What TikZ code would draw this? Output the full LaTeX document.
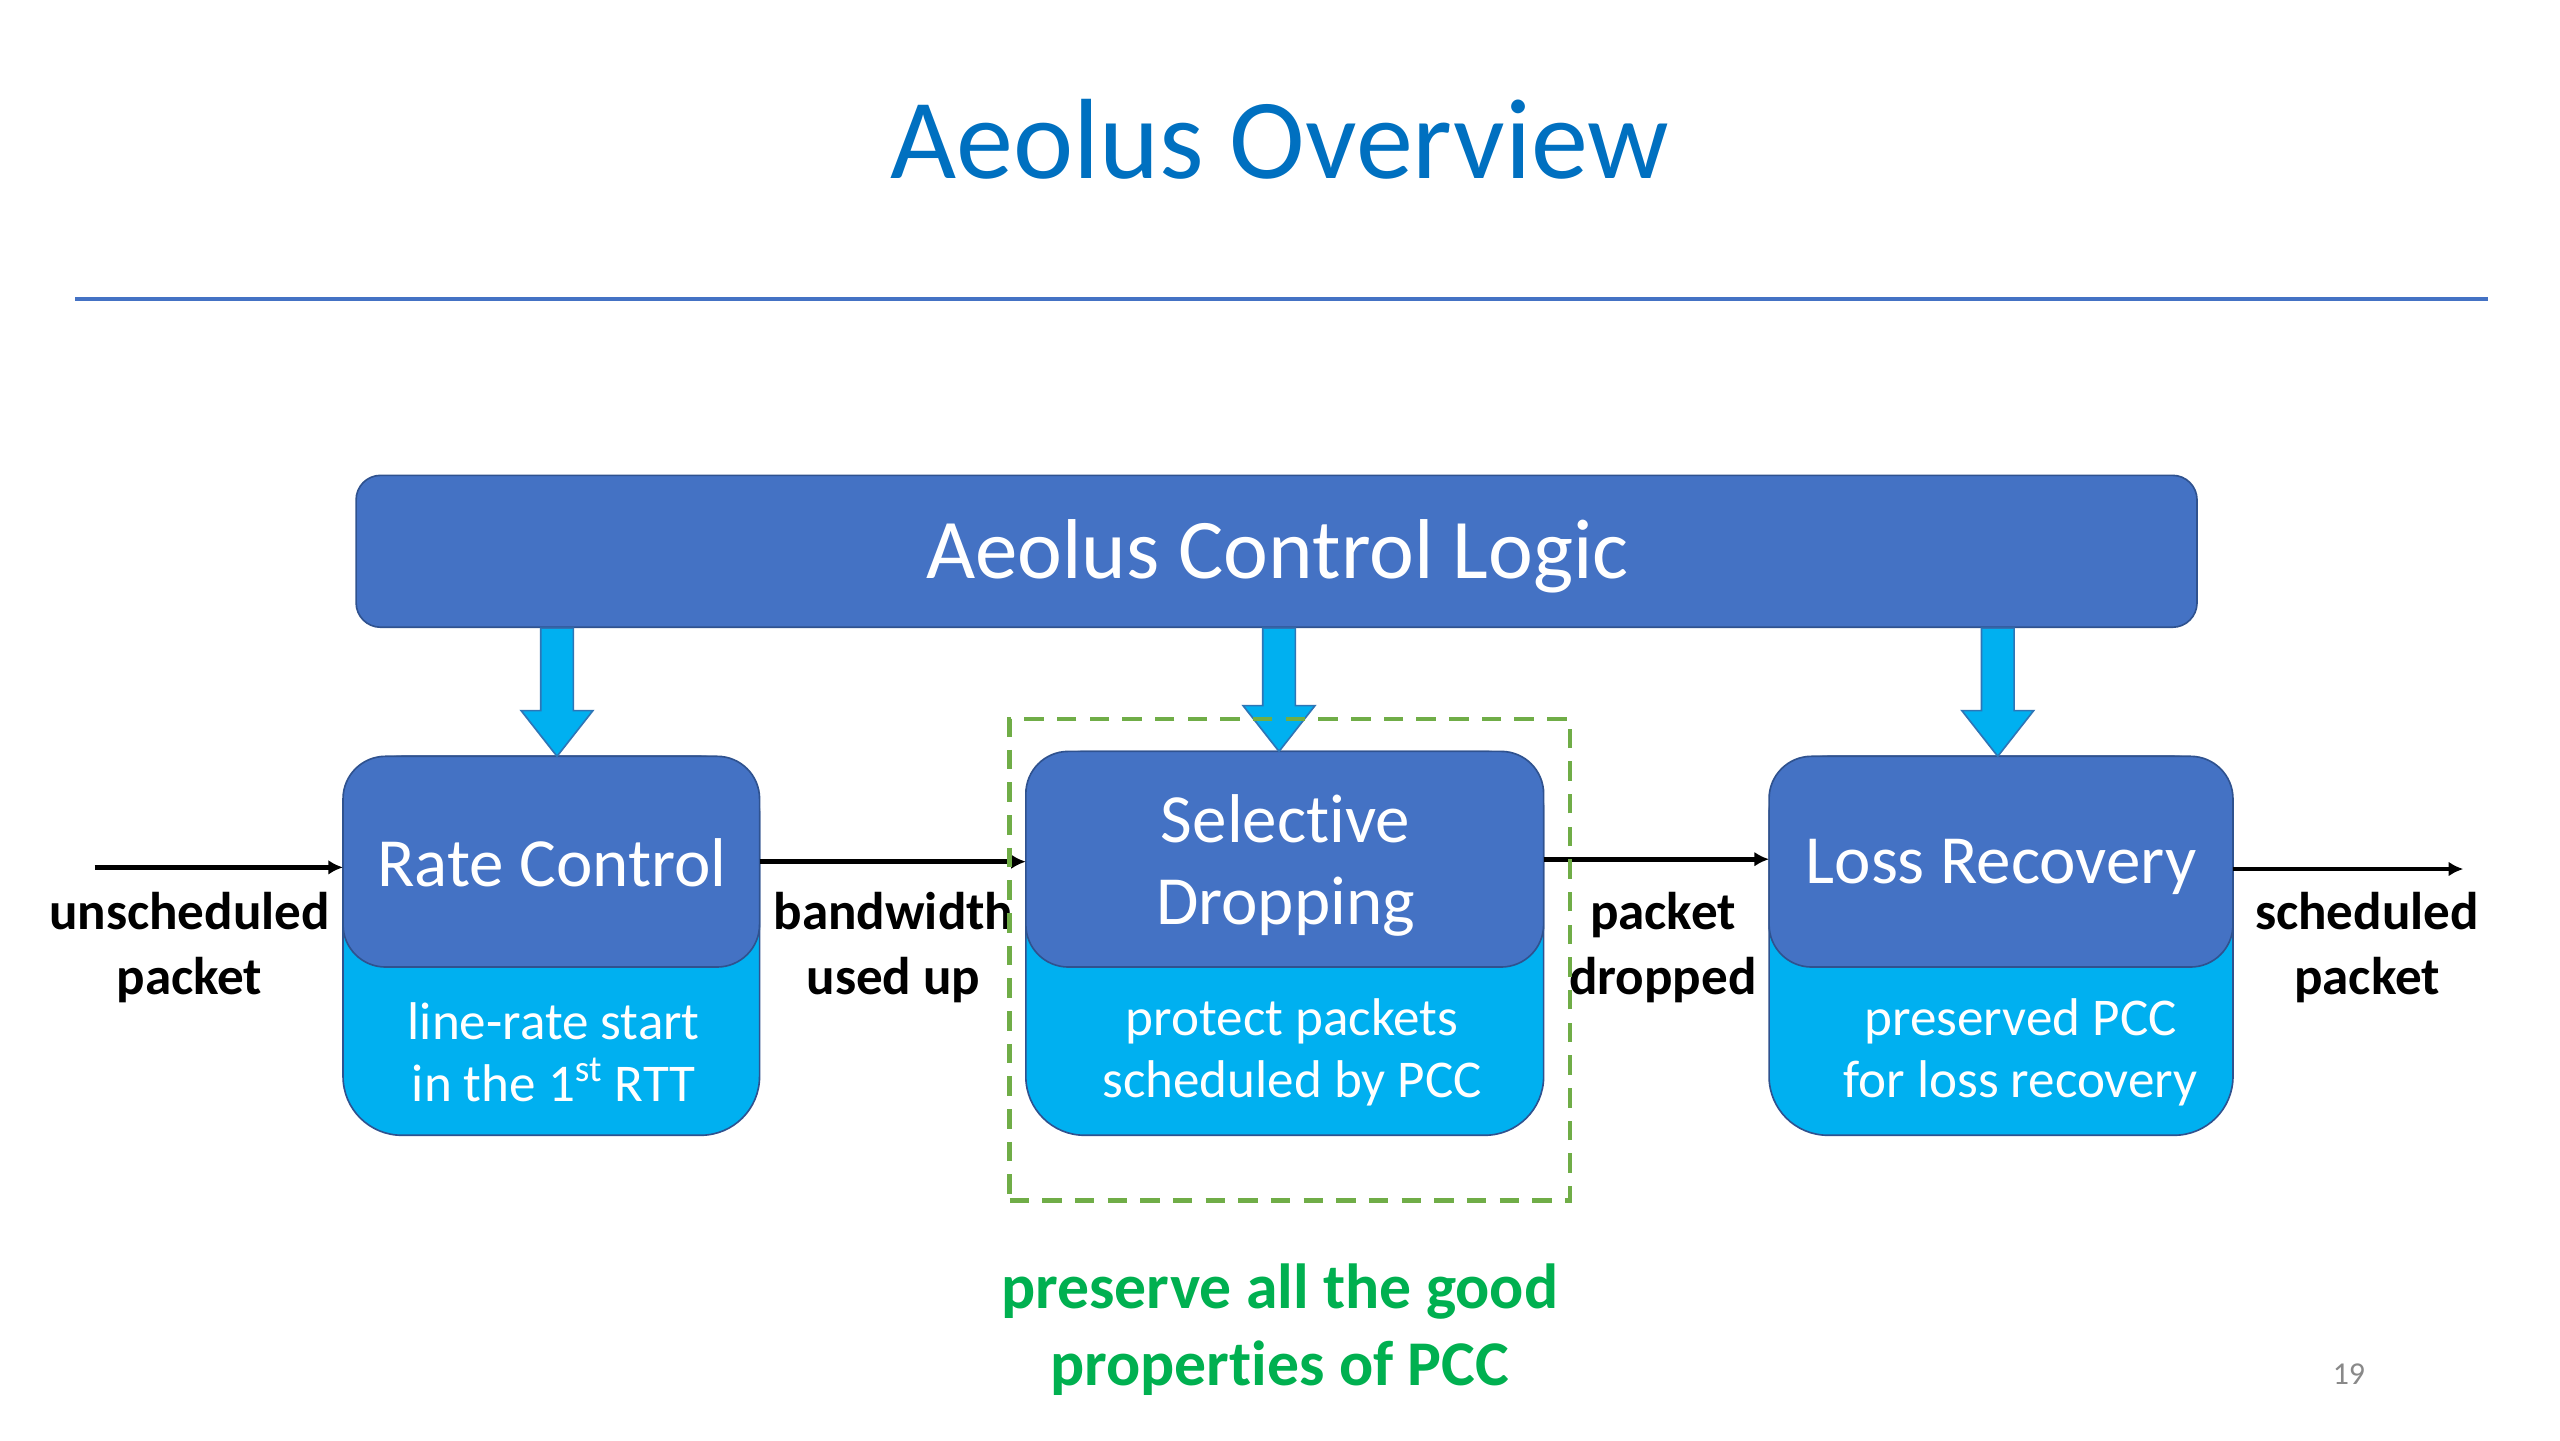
\documentclass[tikz,border=0pt]{standalone}
\usepackage{fontspec}
\setmainfont{Carlito}[RawFeature=-liga]
\usetikzlibrary{calc,arrows.meta}
\newdimen\pxu \pxu=0.6154pt
\definecolor{titleblue}{HTML}{0070C0}
\definecolor{dblue}{HTML}{4472C4}
\definecolor{lblue}{HTML}{00B0F0}
\definecolor{edgeblue}{HTML}{2F528F}
\definecolor{arredge}{HTML}{2E75B6}
\definecolor{dgreen}{HTML}{70AD47}
\definecolor{tgreen}{HTML}{00B050}
\definecolor{pgray}{HTML}{898989}
% #1 source node, #2 target node, #3 horizontal offset
\newcommand\blockarrow[3]{%
  \draw[barrow] ($(#1.south -| #2.north)+(#3-10,0)$) -- ($(#2.north)+(#3-10,-28)$) -- ($(#2.north)+(#3-22,-28)$) -- ($(#2.north)+(#3,0)$)
    -- ($(#2.north)+(#3+22,-28)$) -- ($(#2.north)+(#3+10,-28)$) -- ($(#1.south -| #2.north)+(#3+10,0)$) -- cycle;}
\begin{document}
\begin{tikzpicture}[x=0.6154pt,y=-0.6154pt,
  lbox/.style={fill=lblue,draw=edgeblue,line width=1\pxu,rounded corners=36\pxu,inner sep=0pt,outer sep=0pt},
  dbox/.style={fill=dblue,draw=edgeblue,line width=1\pxu,rounded corners=26\pxu,inner sep=0pt,outer sep=0pt},
  boxtxt/.style={text=white,align=center,font=\fontsize{26}{31}\selectfont,inner sep=0pt},
  subtxt/.style={text=white,align=center,font=\fontsize{20}{23.4}\selectfont,inner sep=0pt},
  lbl/.style={align=center,font=\bfseries\fontsize{20}{24.6}\selectfont,inner sep=0pt},
  flow/.style={line width=3\pxu,-{Latex[length=5.5pt,width=5.5pt]}},
  barrow/.style={fill=lblue,draw=arredge,line width=1\pxu}]
\useasboundingbox (0,0) rectangle (1567.2,881.6);
\fill[white] (0,0) rectangle (1567.2,881.6);
% title
\node[text=titleblue,font=\fontsize{43}{50}\selectfont,anchor=base,inner sep=0pt] (title) at (783.5,109) {Aeolus Overview};
\coordinate (l1) at (46,183);
\coordinate (l2) at (1523,183);
\draw[dblue,line width=2.2\pxu] (l1) -- (l2);
% control logic
\node[fill=dblue,draw=edgeblue,line width=1\pxu,rounded corners=15\pxu,minimum width=1127\pxu,minimum height=93\pxu,inner sep=0pt] (ctrl) at (781.5,337.5) {};
\node[text=white,font=\fontsize{32}{38}\selectfont,inner sep=0pt] (ctrltxt) at (782,340.5) {Aeolus Control Logic};
% boxes
\node[lbox,minimum width=255\pxu,minimum height=232\pxu] (rc) at (337.5,579) {};
\node[dbox,minimum width=255\pxu,minimum height=129\pxu,anchor=north] (rctop) at (rc.north) {};
\node[boxtxt] (rctxt) at (338,528) {Rate Control};
\node[subtxt] (rcsub) at (339,644) {line-rate start\\in the 1\textsuperscript{st} RTT};
\node[lbox,minimum width=317\pxu,minimum height=235\pxu] (sd) at (786.5,577.5) {};
\node[dbox,minimum width=317\pxu,minimum height=132\pxu,anchor=north] (sdtop) at (sd.north) {};
\node[boxtxt] (sdtxt) at (787,530) {Selective\\Dropping};
\node[subtxt] (sdsub) at (791,644) {protect packets\\scheduled by PCC};
\node[lbox,minimum width=284\pxu,minimum height=232\pxu] (lr) at (1225,579) {};
\node[dbox,minimum width=284\pxu,minimum height=129\pxu,anchor=north] (lrtop) at (lr.north) {};
\node[boxtxt] (lrtxt) at (1225,530.5) {Loss Recovery};
\node[subtxt] (lrsub) at (1237,644) {preserved PCC\\for loss recovery};
% block arrows
\blockarrow{ctrl}{rctop}{3.5}
\blockarrow{ctrl}{sdtop}{-3.5}
\blockarrow{ctrl}{lrtop}{-2}
% flow arrows
\coordinate (in) at (58,531);
\coordinate (out) at (1508,532);
\draw[flow] (in) -- (in -| rc.west);
\draw[flow] (rctop.east) -- (rctop.east -| sdtop.west);
\draw[flow] (sdtop.east) -- (sdtop.east -| lrtop.west);
\draw[flow] (out -| lr.east) -- (out);
% labels
\node[lbl] (l_in) at (116,580) {unscheduled\\packet};
\node[lbl] (l_bw) at (547,580) {bandwidth\\used up};
\node[lbl] (l_pd) at (1018,580) {packet\\dropped};
\node[lbl] (l_out) at (1449,580) {scheduled\\packet};
% dashed highlight
\node[draw=dgreen,line width=2.7\pxu,dash pattern=on 12\pxu off 8\pxu,minimum width=343\pxu,minimum height=295\pxu,inner sep=0pt] (hl) at (789.5,587.5) {};
\node[text=tgreen,align=center,font=\bfseries\fontsize{24}{29}\selectfont,inner sep=0pt] (note) at (783.5,814) {preserve all the good\\properties of PCC};
\node[text=pgray,font=\fontsize{12}{14}\selectfont,inner sep=0pt] (pg) at (1438,841) {19};
\end{tikzpicture}
\end{document}
